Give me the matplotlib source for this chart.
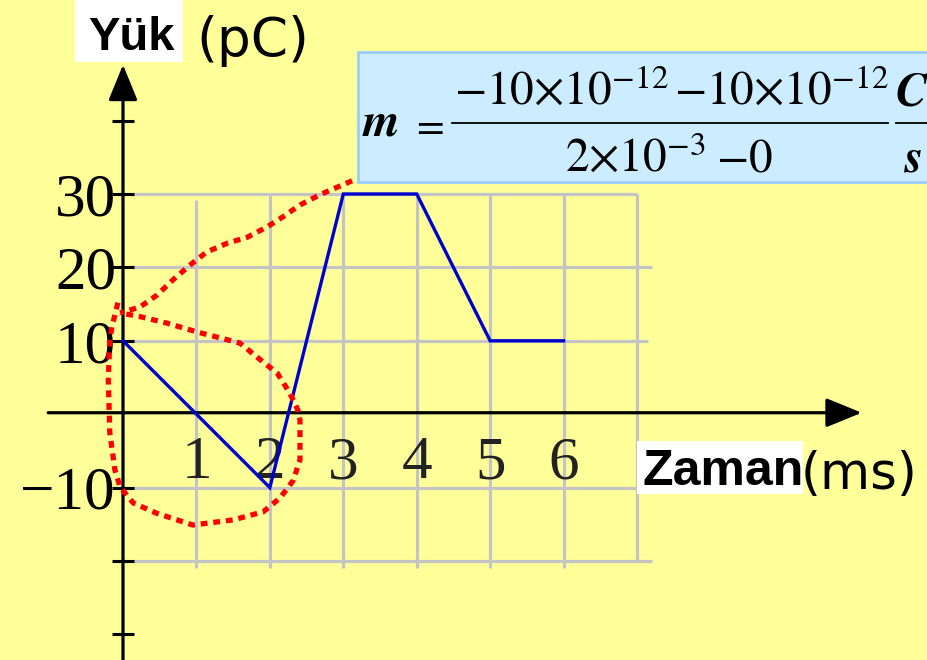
import matplotlib
matplotlib.use("Agg")
import matplotlib.pyplot as plt
from matplotlib.patches import Rectangle
from matplotlib.lines import Line2D

# ---- data ----
time_ms = [0, 1, 2, 3, 4, 5, 6]
charge_pC = [10, 0, -10, 30, 30, 10, 10]
x_tick_vals = [1, 2, 3, 4, 5, 6]
x_tick_labels = ["1", "2", "3", "4", "5", "6"]
y_tick_vals = [-30, -20, -10, 10, 20, 30, 40]
y_tick_labels = ["", "", "\u221210", "10", "20", "30", ""]
grid_x = [1, 2, 3, 4, 5, 6, 7]
grid_y = [-20, -10, 10, 20, 30]

# hand-drawn red dotted annotation (data units)
ann_upper_x = [3.12, 2.68, 2.41, 2.18, 1.96, 1.69, 1.42, 1.14, 0.91, 0.68, 0.46, 0.23, -0.04]
ann_upper_y = [31.8, 29.9, 28.5, 26.9, 25.5, 24.1, 23.3, 22.1, 20.3, 18.3, 16.2, 14.6, 13.8]
ann_loop_x = [-0.07, -0.15, -0.18, -0.20, -0.18, -0.11, -0.04, 0.14, 0.46, 0.95, 1.50, 1.91, 2.14,
              2.32, 2.41, 2.41, 2.38, 2.27, 2.10, 1.91, 1.59, 1.28, 1.01, 0.60, 0.23, -0.04]
ann_loop_y = [15.2, 11.9, 10.1, 4.7, -2.5, -7.6, -9.9, -12.1, -13.5, -15.1, -14.4, -13.3, -11.4,
              -9.0, -6.2, -0.8, 0.6, 2.9, 5.6, 7.1, 9.7, 10.5, 11.2, 12.4, 13.3, 13.8]

BG = "#FFFF99"
GRID = "#C4C4C4"
W, H = 928, 660

plt.rcParams["mathtext.fontset"] = "stix"

fig = plt.figure(figsize=(9.28, 6.6), dpi=100)
fig.patch.set_facecolor(BG)
ax = fig.add_axes([0, 0, 1, 1])
ax.set_facecolor(BG)

# x=0 at 123 px, 73.43 px/unit ; y=0 at 414.2 px, 7.34 px/unit
ax.set_xlim(-123 / 73.43, (W - 123) / 73.43)
ax.set_ylim(-(H - 414.2) / 7.34, 414.2 / 7.34)

# grid
gx_lo = [-21, -21, -21, -21, -21, -21, -20]
gx_hi = [29.2, 30, 30, 30, 30, 30, 30]
for gx, lo, hi in zip(grid_x, gx_lo, gx_hi):
    ax.vlines(gx, lo, hi, color=GRID, lw=2.3, zorder=1)
gy_left = [0, 0, 0.05, 0.1, -0.08]
gy_right = [7.2, 7.0, 7.15, 7.2, 7.0]
for gy, l, r in zip(grid_y, gy_left, gy_right):
    ax.hlines(gy, l, r, color=GRID, lw=2.3, zorder=1)

# axes with arrows
arrow = dict(arrowstyle="-|>,head_length=1.1,head_width=0.45", lw=2.3,
             color="black", shrinkA=0, shrinkB=0, mutation_scale=20)
ax.annotate("", xy=(0, 47.6), xytext=(0, -34), zorder=3, arrowprops=arrow)
ax.annotate("", xy=(10.06, 0.2), xytext=(-1.02, 0.2), zorder=3, arrowprops=arrow)

for s in ax.spines.values():
    s.set_visible(False)
ax.spines["left"].set_position(("data", 0))
ax.spines["bottom"].set_position(("data", 0))

ax.set_yticks(y_tick_vals)
ax.set_yticklabels(y_tick_labels, fontfamily="Liberation Serif", fontsize=44, color="#111111")
ax.tick_params(axis="y", direction="inout", length=16, width=2.2, pad=-3, colors="black")
ax.set_xticks(x_tick_vals)
ax.set_xticklabels(x_tick_labels, fontfamily="Liberation Serif", fontsize=44, color="#222222")
ax.tick_params(axis="x", length=0, pad=15.5)

# data line
ax.plot(time_ms, charge_pC, color="#0000CC", lw=2.4, zorder=4, solid_joinstyle="miter")

# red dotted annotation
dot = dict(color="#FF0000", lw=3.8, linestyle=(0, (1.3, 1.1)), dash_capstyle="butt", zorder=5)
ax.plot(ann_upper_x, ann_upper_y, **dot)
ax.plot(ann_loop_x, ann_loop_y, **dot)

# axis titles
fig.patches.append(Rectangle((75 / W, 1 - 62 / H), 108 / W, 62 / H,
                             transform=fig.transFigure, facecolor="white", edgecolor="none", zorder=0))
fig.text(88 / W, 1 - 50 / H, "Yük", fontfamily="Liberation Sans", fontweight="bold", fontsize=34,
         ha="left", va="baseline")
fig.text(196 / W, 1 - 56 / H, "(pC)", fontfamily="DejaVu Sans", fontsize=38.5,
         ha="left", va="baseline")

fig.patches.append(Rectangle((637 / W, 1 - 494 / H), 166 / W, 53 / H,
                             transform=fig.transFigure, facecolor="white", edgecolor="none", zorder=0))
fig.text(643 / W, 1 - 485 / H, "Zaman", fontfamily="Liberation Sans", fontweight="bold", fontsize=36,
         ha="left", va="baseline")
fig.text(801 / W, 1 - 489 / H, "(ms)", fontfamily="DejaVu Sans", fontsize=37,
         ha="left", va="baseline")

# formula box
fig.patches.append(Rectangle((358 / W, 1 - 182 / H), 600 / W, 130 / H,
                             transform=fig.transFigure, facecolor="#CCECFF", edgecolor="#99CCFF",
                             lw=2, zorder=0))
FS = 34
def ftext(px, py, s, ha="left", fs=FS):
    fig.text(px / W, 1 - py / H, s, fontsize=fs, ha=ha, va="baseline", color="black")

ftext(362, 135, r"$\mathbfit{m}$")
ftext(411, 137, r"$=$", fs=29)
ftext(454, 105, r"$-10{\times}10^{-12}$")
ftext(674, 105, r"$-10{\times}10^{-12}$")
ftext(565, 172, r"$2{\times}10^{-3}$")
ftext(716, 172, r"$-0$")
ftext(912, 105, r"$\mathbfit{C}$", ha="center")
ftext(913, 172, r"$\mathbfit{s}$", ha="center")
fig.lines.append(Line2D([452 / W, 888 / W], [1 - 123 / H, 1 - 123 / H], transform=fig.transFigure,
                        color="black", lw=1.3))
fig.lines.append(Line2D([896 / W, 1.0], [1 - 123 / H, 1 - 123 / H], transform=fig.transFigure,
                        color="black", lw=1.3))

fig.savefig("out.png", dpi=100, facecolor=BG)
